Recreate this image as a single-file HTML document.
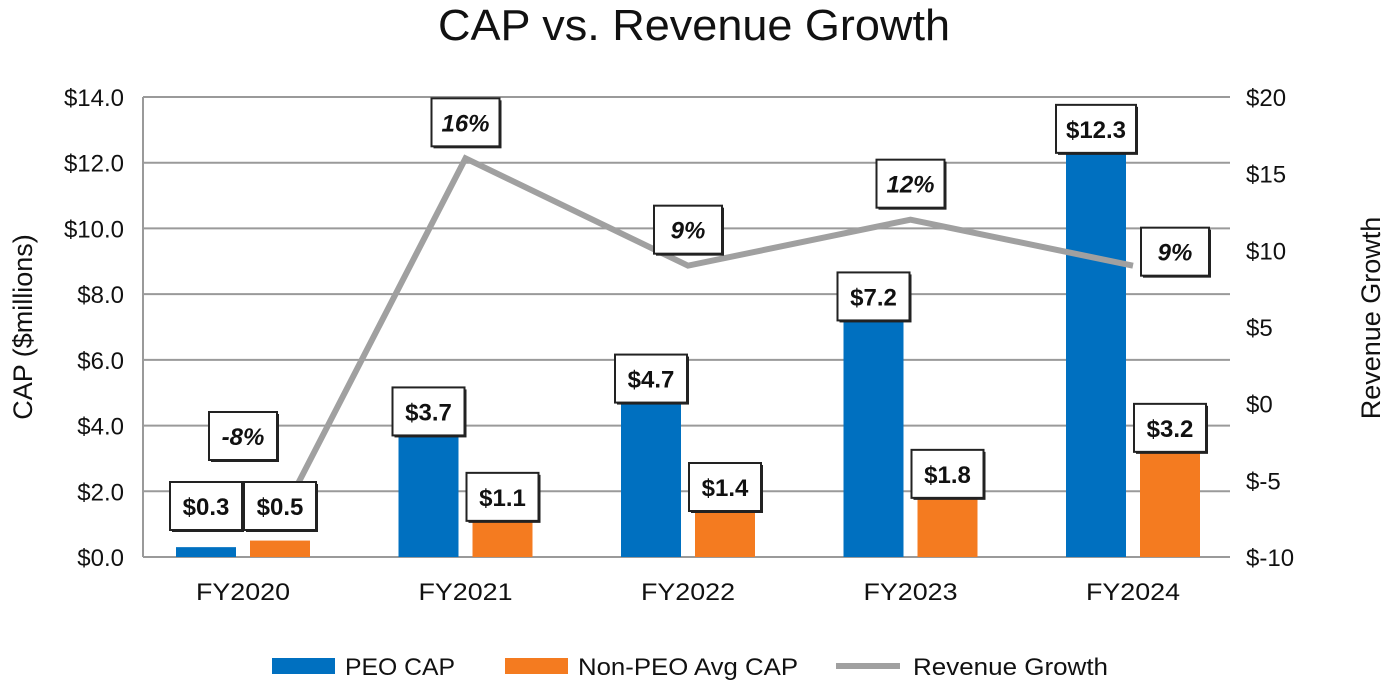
<!DOCTYPE html>
<html><head><meta charset="utf-8"><style>
body{margin:0;background:#fff;}
svg text{font-family:"Liberation Sans",sans-serif;fill:#111;}
</style></head><body>
<svg width="1389" height="681" viewBox="0 0 1389 681">
<text x="438" y="40" font-size="44" textLength="512" lengthAdjust="spacingAndGlyphs">CAP vs. Revenue Growth</text>
<text transform="translate(32,327) rotate(-90)" font-size="27" text-anchor="middle">CAP ($millions)</text>
<text transform="translate(1380,318) rotate(-90)" font-size="27" text-anchor="middle">Revenue Growth</text>
<g id="grid"></g><g id="bars"></g><g id="line"></g><g id="labels"></g>
<g>
<rect x="272" y="658" width="63" height="16" fill="#0070C0"/>
<text x="345" y="675" font-size="24" textLength="110" lengthAdjust="spacingAndGlyphs">PEO CAP</text>
<rect x="505" y="658" width="63" height="16" fill="#F47B20"/>
<text x="578" y="675" font-size="24" textLength="220" lengthAdjust="spacingAndGlyphs">Non-PEO Avg CAP</text>
<rect x="836" y="663" width="64" height="6" fill="#A0A0A0"/>
<text x="913" y="675" font-size="24" textLength="195" lengthAdjust="spacingAndGlyphs">Revenue Growth</text>
</g>
</svg>
<script>
const categories=["FY2020","FY2021","FY2022","FY2023","FY2024"];
const peoCap=[0.3,3.7,4.7,7.2,12.3];
const nonPeoCap=[0.5,1.1,1.4,1.8,3.2];
const revenueGrowth=[-8,16,9,12,9];
const leftTicks=["$0.0","$2.0","$4.0","$6.0","$8.0","$10.0","$12.0","$14.0"];
const rightTicks=["$-10","$-5","$0","$5","$10","$15","$20"];
const NS="http://www.w3.org/2000/svg";
const x0=143,x1=1230,yTop=97,yBot=557;
const yL=v=>yBot-(v/14)*(yBot-yTop);
const yR=v=>yBot-((v+10)/30)*(yBot-yTop);
const xC=i=>243+i*222.5;
function mk(tag,attrs,parent,txt){const e=document.createElementNS(NS,tag);for(const k in attrs)e.setAttribute(k,attrs[k]);if(txt!=null)e.textContent=txt;document.getElementById(parent).appendChild(e);return e;}
leftTicks.forEach((t,i)=>{const y=yL(i*2);
 const g=mk('line',{x1:x0,x2:x1,y1:y,y2:y,stroke:'#9a9a9a','stroke-width':2},'grid');
 
 
 const tx=mk('text',{x:124,y:y+9,'font-size':24,'text-anchor':'end'},'grid',t);
 
 });
rightTicks.forEach((t,i)=>{const y=yR(-10+i*5);
 const tx=mk('text',{x:1246,y:y+9,'font-size':24},'grid',t);
 
 });
const ax=mk('line',{x1:x0,x2:x0,y1:yTop,y2:yBot,stroke:'#9a9a9a','stroke-width':2},'grid');


function box(cx,bottom,txt,italic,name){
 const w=txt.length>4?80:(txt.length>3?72:68),h=48,x=cx-w/2,y=bottom-h;
 const s=mk('rect',{x:x+2,y:y+2,width:w,height:h,fill:'#222'},'labels');
 
 
 const r=mk('rect',{x:x,y:y,width:w,height:h,fill:'#fff',stroke:'#222','stroke-width':2},'labels');
 
 
 const t=mk('text',{x:cx,y:y+33,'font-size':24,'font-weight':'bold','text-anchor':'middle','font-style':italic?'italic':'normal'},'labels',txt);
 
 }
categories.forEach((c,i)=>{const cx=xC(i);
 const b1=mk('rect',{x:cx-67,y:yL(peoCap[i]),width:60,height:yBot-yL(peoCap[i]),fill:'#0070C0'},'bars');
 
 
 const b2=mk('rect',{x:cx+7,y:yL(nonPeoCap[i]),width:60,height:yBot-yL(nonPeoCap[i]),fill:'#F47B20'},'bars');
 
 
 const t=mk('text',{x:cx-47,y:600,'font-size':24,textLength:94,lengthAdjust:'spacingAndGlyphs'},'grid',c);
 
 
 box(cx-37,Math.min(yL(peoCap[i]),530),'$'+peoCap[i].toFixed(1),false,'peo-value-label');
 box(cx+37,Math.min(yL(nonPeoCap[i]),530),'$'+nonPeoCap[i].toFixed(1),false,'nonpeo-value-label');
});
const lx=[276,470,688,905,1125];
const pts=revenueGrowth.map((v,i)=>(i==0?lx[0]:xC(i))+','+yR(v)).join(' ');
const pl=mk('polyline',{points:pts,fill:'none',stroke:'#A0A0A0','stroke-width':6},'line');


const lblDx=[0,0,0,0,42];
revenueGrowth.forEach((v,i)=>{const cx=(i==0?243:xC(i))+lblDx[i];
 const bottom=i==4?yR(v)+10:(i==0?yR(v)-66:yR(v)-12);
 box(cx,Math.min(bottom,i==0?460:bottom),v+'%',true,'revenue-growth-label');});
</script>
</body></html>
